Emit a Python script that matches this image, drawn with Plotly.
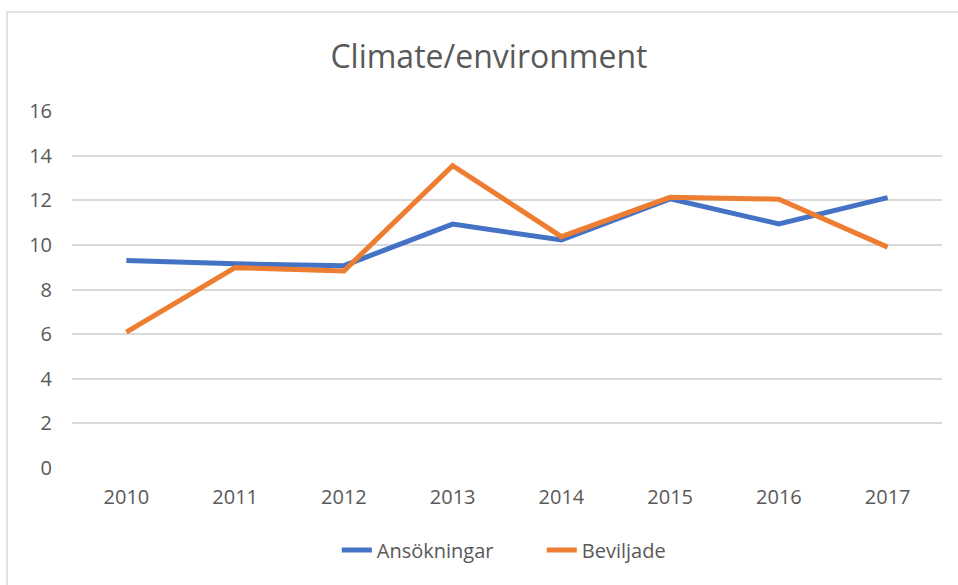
import plotly.graph_objects as go

years = ["2010", "2011", "2012", "2013", "2014", "2015", "2016", "2017"]
ansokningar = [9.30, 9.15, 9.07, 10.93, 10.22, 12.06, 10.94, 12.12]
beviljade = [6.09, 8.98, 8.83, 13.55, 10.37, 12.13, 12.05, 9.90]
y_ticks = [0, 2, 4, 6, 8, 10, 12, 14, 16]

FONT = "Open Sans, Noto Sans, sans-serif"
GREY = "#595959"

fig = go.Figure()
fig.add_trace(go.Scatter(x=years, y=ansokningar, mode="lines", name="Ansökningar",
                         line=dict(color="#4472C4", width=5)))
fig.add_trace(go.Scatter(x=years, y=beviljade, mode="lines", name="Beviljade",
                         line=dict(color="#ED7D31", width=5)))

fig.update_layout(
    width=958, height=585,
    margin=dict(l=72, r=16, t=111, b=117),
    paper_bgcolor="white", plot_bgcolor="white",
    font=dict(family=FONT, color=GREY, size=20),
    title=dict(text="Climate/environment", x=0.5104, xanchor="center", y=0.9026, yanchor="middle",
               font=dict(family=FONT, size=32, color=GREY)),
    xaxis=dict(type="category", range=[-0.5, 7.5], showgrid=False, showline=False,
               ticks="", tickfont=dict(size=20, color=GREY), ticklabelstandoff=15),
    yaxis=dict(range=[0, 16], tickvals=y_ticks, showgrid=True, gridcolor="#D9D9D9",
               gridwidth=1.5, zeroline=False, showline=False, ticks="",
               tickfont=dict(size=20, color=GREY), ticklabelstandoff=19),
    legend=dict(orientation="h", x=0.54, xanchor="center", y=-0.23, yanchor="middle",
                font=dict(size=20, color=GREY), tracegroupgap=0, entrywidth=160,
                entrywidthmode="pixels"),
    showlegend=True,
)
fig.add_shape(type="rect", xref="paper", yref="paper", x0=-0.0747, x1=1.1, y0=-0.5, y1=1.2773,
              line=dict(color="#D9D9D9", width=1.5), fillcolor="rgba(0,0,0,0)", layer="below")

fig.write_html("out.html", config={"displayModeBar": False},
               post_script="document.body.style.margin='0';")
